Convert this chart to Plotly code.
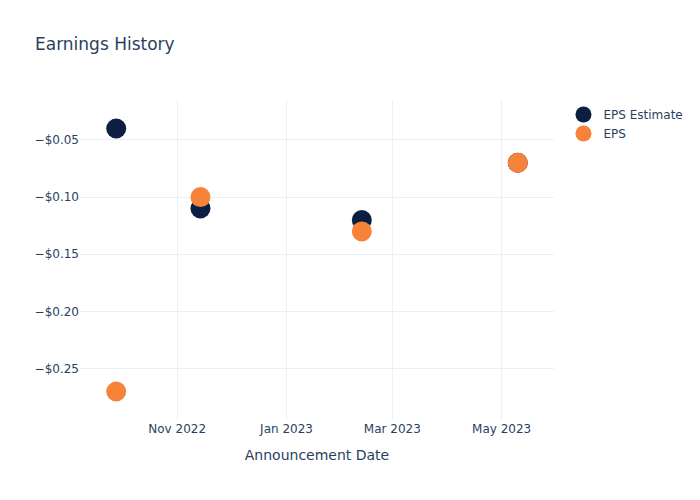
import plotly.graph_objects as go

dates = ["2022-09-28", "2022-11-14", "2023-02-12", "2023-05-10"]
eps_estimate = [-0.04, -0.11, -0.12, -0.07]
eps_actual = [-0.27, -0.10, -0.13, -0.07]

fig = go.Figure()
fig.add_trace(go.Scatter(x=dates, y=eps_estimate, mode="markers", name="EPS Estimate",
                         marker=dict(size=20, color="#0c1f40")))
fig.add_trace(go.Scatter(x=dates, y=eps_actual, mode="markers", name="EPS",
                         marker=dict(size=20, color="#f7833b")))
fig.update_layout(
    template="plotly_white",
    width=700, height=500,
    font=dict(family="DejaVu Sans"),
    title=dict(text="Earnings History"),
    xaxis=dict(title=dict(text="Announcement Date")),
    yaxis=dict(tickformat="$.2f"),
)
fig.write_html("out.html")
